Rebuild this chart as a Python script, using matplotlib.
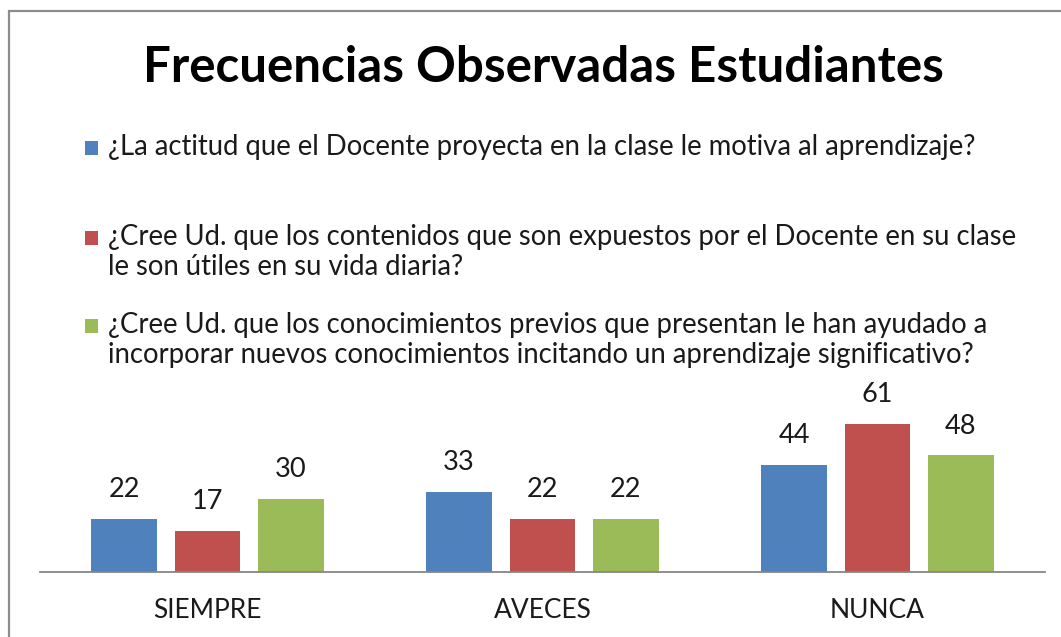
import matplotlib
matplotlib.use("Agg")
import matplotlib.pyplot as plt
from matplotlib.patches import Rectangle
import numpy as np

# frecuencias por categoria de respuesta
categorias = ["SIEMPRE", "AVECES", "NUNCA"]
preguntas = [
    "¿La actitud que el Docente proyecta en la clase le motiva al aprendizaje?",
    "¿Cree Ud. que los contenidos que son expuestos por el Docente en su clase\nle son útiles en su vida diaria?",
    "¿Cree Ud. que los conocimientos previos que presentan le han ayudado a\nincorporar nuevos conocimientos incitando un aprendizaje significativo?",
]
actitud = [22, 33, 44]
contenidos = [17, 22, 61]
conocimientos = [30, 22, 48]
colores = ["#4F81BD", "#C0504D", "#9BBB59"]

plt.rcParams["font.family"] = ["Lato", "DejaVu Sans"]

W, H = 1061, 637
fig = plt.figure(figsize=(W / 100, H / 100), dpi=100)

# marco del grafico
fig.patches.append(Rectangle((9 / W, -0.1), 1.2, 1.1 - 11 / H, transform=fig.transFigure,
                             fill=False, edgecolor="#8C8C8C", linewidth=1.6))

ax = fig.add_axes([40 / W, (H - 572) / H, 1005 / W, 170 / H])
x = np.arange(len(categorias))
ancho = 0.197
paso = 0.249
for i, (serie, color) in enumerate(zip([actitud, contenidos, conocimientos], colores)):
    barras = ax.bar(x + (i - 1) * paso, serie, ancho, color=color)
    for b, v in zip(barras, serie):
        ax.annotate(str(v), (b.get_x() + b.get_width() / 2, v), xytext=(0, 12),
                    textcoords="offset points", ha="center", va="bottom",
                    fontsize=19.5, color="#1a1a1a")

ax.set_xlim(-0.5, 2.5)
ax.set_ylim(0, 70)
ax.set_yticks([])
ax.set_xticks(x)
ax.set_xticklabels(categorias, fontsize=19, color="#1a1a1a")
ax.tick_params(axis="x", length=0, pad=19)
for s in ["top", "right", "left"]:
    ax.spines[s].set_visible(False)
ax.spines["bottom"].set_color("#868686")
ax.spines["bottom"].set_linewidth(1.3)

fig.text(543 / W, 1 - 67 / H, "Frecuencias Observadas Estudiantes", ha="center", va="center",
         fontsize=35.5, fontweight="bold", color="black")

# leyenda
ys = [148, 238, 326]
for texto, color, y in zip(preguntas, colores, ys):
    fig.patches.append(Rectangle((85 / W, 1 - (y + 7) / H), 13 / W, 14 / H,
                                 transform=fig.transFigure, facecolor=color, edgecolor="none"))
    fig.text(108 / W, 1 - (y - 14) / H, texto, ha="left", va="top", fontsize=19.8,
             color="#1a1a1a", linespacing=1.2)

fig.savefig("out.png", dpi=100)
